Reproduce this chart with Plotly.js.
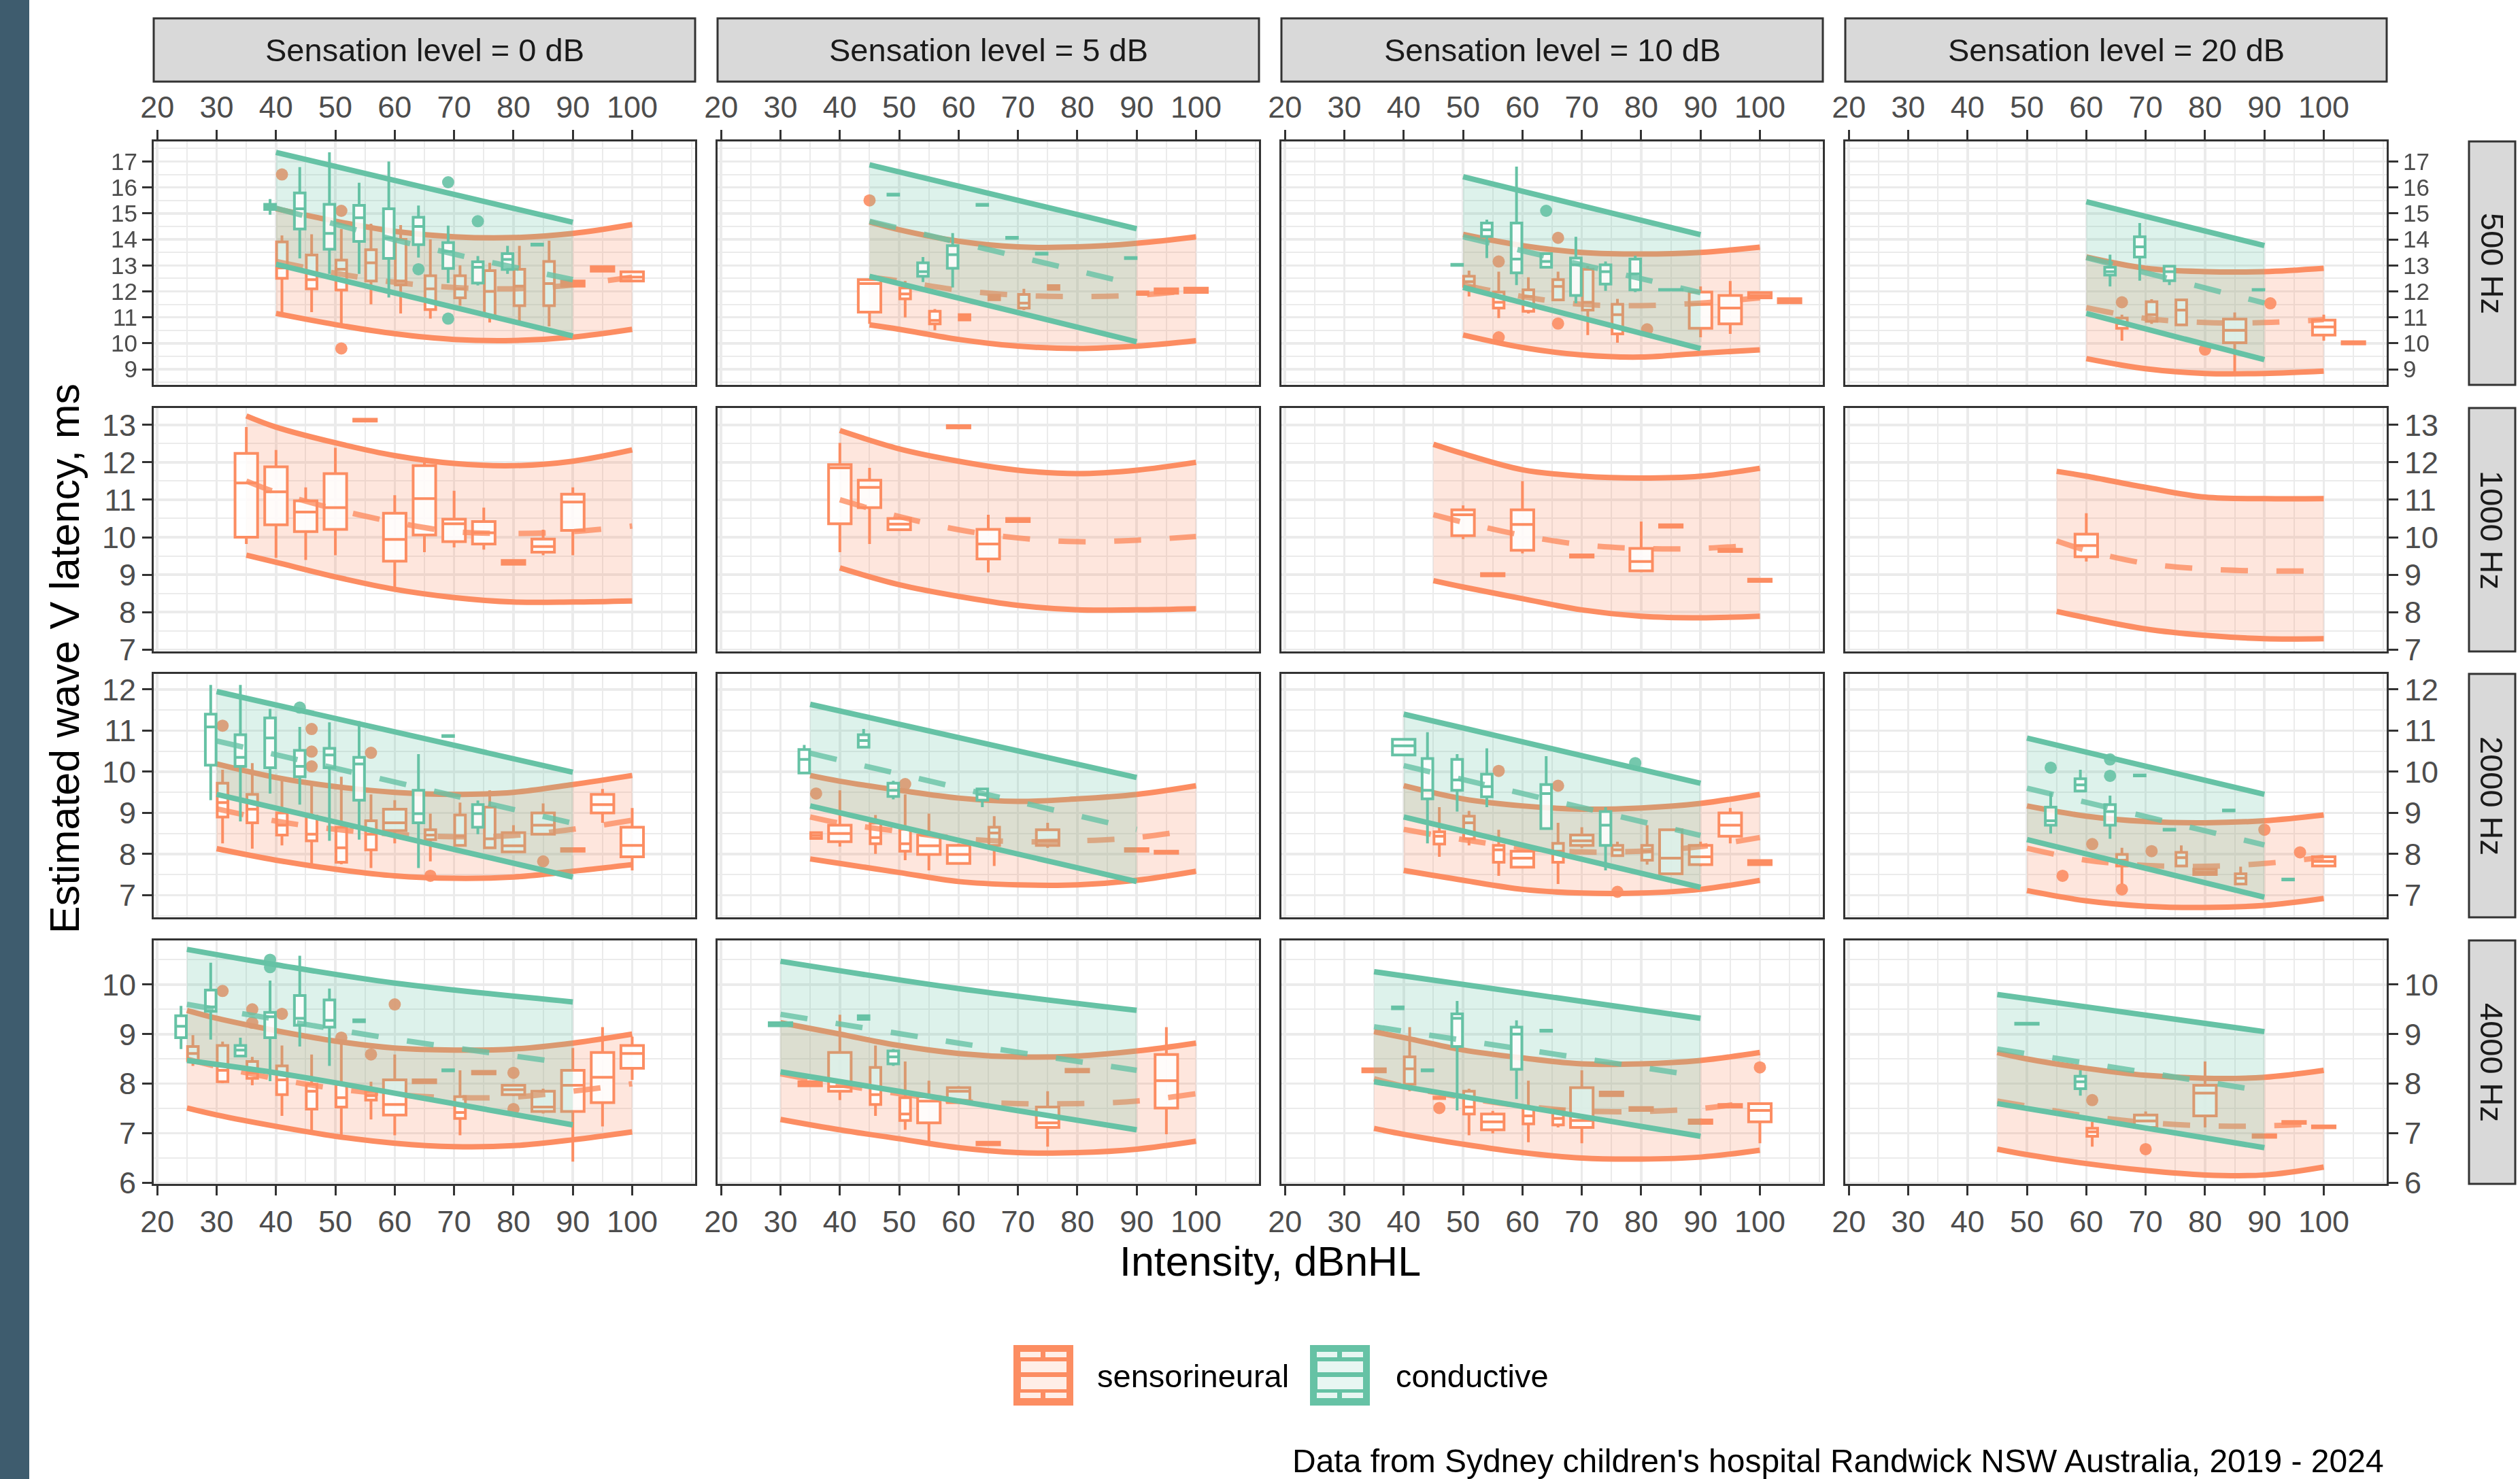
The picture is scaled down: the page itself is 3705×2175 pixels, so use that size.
<!DOCTYPE html>
<html><head><meta charset="utf-8">
<script src="https://cdn.plot.ly/plotly-3.0.1.min.js"></script>
<style>html,body{margin:0;padding:0;background:#fff}#chart{width:3705px;height:2175px}</style>
</head><body><div id="chart"></div>
<script>
// ---------------- DATA ----------------
const sensationLevels = ['Sensation level = 0 dB','Sensation level = 5 dB','Sensation level = 10 dB','Sensation level = 20 dB'];
const frequencies = ['500 Hz','1000 Hz','2000 Hz','4000 Hz'];
const groupNames = ['sensorineural','conductive'];
const xTickVals = [20,30,40,50,60,70,80,90,100];
const xMinorVals = [25,35,45,55,65,75,85,95,105,110];
const yTickVals = [[9,10,11,12,13,14,15,16,17],[7,8,9,10,11,12,13],[7,8,9,10,11,12],[6,7,8,9,10]];
const yMinorVals = [[8.5,9.5,10.5,11.5,12.5,13.5,14.5,15.5,16.5,17.5],[7.5,8.5,9.5,10.5,11.5,12.5],[6.5,7.5,8.5,9.5,10.5,11.5],[6.5,7.5,8.5,9.5,10.5]];
const captionText = "Data from Sydney children's hospital Randwick NSW Australia, 2019 - 2024";

// boxes: [intensity, lower whisker, q1, median, q3, upper whisker]; outliers: [intensity, latency]
// ---- 500 Hz, SL 0
const p11_x = [40,50,60,70,80,90,100];
const p11_snLo = [11.15,10.72,10.37,10.15,10.11,10.24,10.54];
const p11_snHi = [15.18,14.70,14.31,14.10,14.07,14.23,14.57];
const p11_snFit = [13.15,12.7,12.35,12.15,12.1,12.25,12.55];
const p11_cdX = [40,65,90];
const p11_cdLo = [13.04,11.66,10.28];
const p11_cdHi = [17.35,16.0,14.66];
const p11_cdFit = [15.2,13.7,12.45];
const p11_snBox = [[40,11.2,12.5,12.9,13.9,14.15],[45,11.2,12.1,12.45,13.4,14.2],[50,10.75,12.05,12.85,13.2,14.4],[55,11.5,12.4,13.1,13.6,14.6],[60,11.15,12.25,12.4,14.0,14.55],[65,10.95,11.3,12.1,12.6,14.0],[70,11.45,11.75,12.1,12.6,13.0],[75,10.8,11.06,12.0,12.8,13.1],[80,10.8,11.45,12.2,12.85,13.75],[85,10.65,11.45,12.3,13.15,13.95],[90,12.15,12.2,12.3,12.4,12.45],[95,12.75,12.78,12.85,12.95,12.97],[100,12.35,12.4,12.55,12.75,12.8]];
const p11_cdBox = [[40,14.95,15.15,15.25,15.35,15.55],[45,13.27,14.4,15.18,15.79,16.78],[50,12.67,13.62,14.23,15.35,17.35],[55,12.67,13.92,14.83,15.31,16.18],[60,11.76,13.27,14.05,15.18,17.0],[65,13.3,13.8,14.5,14.85,15.3],[70,12.32,12.88,13.53,13.88,14.53],[75,12.23,12.32,12.93,13.14,13.36],[80,12.67,12.84,13.23,13.45,13.75],[85,13.75,13.78,13.8,13.82,13.85]];
const p11_snOut = [[40,16.5],[50,15.1],[50,9.8]];
const p11_cdOut = [[70,16.2],[75,14.7],[65,12.85],[70,10.95]];
// ---- 500 Hz, SL 5
const p12_x = [45,50,60,70,80,90,100];
const p12_snLo = [10.71,10.54,10.15,9.89,9.8,9.89,10.1];
const p12_snHi = [14.67,14.37,13.93,13.71,13.71,13.85,14.1];
const p12_snFit = [12.55,12.4,12.05,11.85,11.8,11.85,12.05];
const p12_cdX = [45,90];
const p12_cdLo = [12.58,10.06];
const p12_cdHi = [16.87,14.41];
const p12_cdFit = [14.7,12.25];
const p12_snBox = [[45,10.75,11.2,12.3,12.45,12.5],[50,11.0,11.71,11.9,12.13,12.4],[55,10.5,10.75,10.88,11.23,11.32],[60,10.88,10.9,11.0,11.1,11.12],[65,11.65,11.68,11.75,11.85,11.88],[70,11.28,11.36,11.55,11.88,12.1],[75,12.05,12.08,12.15,12.22,12.25],[90,11.85,11.88,11.93,11.98,12.0],[95,11.9,11.93,12.0,12.1,12.15],[100,11.93,11.96,12.05,12.12,12.17]];
const p12_cdBox = [[50,15.68,15.7,15.72,15.74,15.76],[55,12.36,12.58,12.76,13.1,13.32],[60,12.15,12.89,13.41,13.76,14.24],[65,15.28,15.31,15.33,15.35,15.38],[70,14.02,14.04,14.06,14.08,14.1],[75,13.41,13.43,13.45,13.47,13.49],[90,13.24,13.26,13.28,13.3,13.32]];
const p12_snOut = [[45,15.5]];
const p12_cdOut = [];
// ---- 500 Hz, SL 10
const p13_x = [50,60,70,80,90,100];
const p13_snLo = [10.32,9.84,9.55,9.47,9.62,9.75];
const p13_snHi = [14.19,13.76,13.5,13.44,13.5,13.7];
const p13_snFit = [12.25,11.8,11.5,11.45,11.55,11.75];
const p13_cdX = [50,90];
const p13_cdLo = [12.15,9.8];
const p13_cdHi = [16.41,14.18];
const p13_cdFit = [14.1,11.95];
const p13_snBox = [[50,11.8,12.19,12.37,12.58,12.8],[55,10.97,11.36,11.58,11.97,12.76],[60,11.15,11.23,11.8,12.06,12.54],[65,11.63,11.67,12.19,12.45,12.76],[70,10.32,11.28,11.58,12.85,12.98],[75,10.02,10.36,11.1,11.5,11.71],[90,10.23,10.58,11.5,11.97,12.19],[95,10.36,10.75,11.36,11.84,12.4],[100,11.71,11.75,11.84,11.95,11.97],[105,11.52,11.56,11.64,11.72,11.76]];
const p13_cdBox = [[50,12.98,13.0,13.02,13.04,13.06],[55,13.28,14.11,14.37,14.63,14.76],[60,12.24,12.71,13.24,14.63,16.8],[65,12.9,12.93,13.15,13.45,13.5],[70,11.54,11.84,13.02,13.28,14.1],[75,12.02,12.28,12.76,13.02,13.15],[80,11.97,12.06,12.67,13.24,13.37],[85,12.04,12.05,12.06,12.07,12.08]];
const p13_snOut = [[55,13.15],[55,10.23],[65,14.06],[65,10.76],[80,10.54]];
const p13_cdOut = [[65,15.1]];
// ---- 500 Hz, SL 20
const p14_x = [60,70,80,90,100];
const p14_snLo = [9.41,9.02,8.84,8.84,8.93];
const p14_snHi = [13.32,12.89,12.76,12.76,12.89];
const p14_snFit = [11.37,10.96,10.8,10.8,10.91];
const p14_cdX = [60,90];
const p14_cdLo = [11.15,9.37];
const p14_cdHi = [15.45,13.76];
const p14_cdFit = [13.3,11.55];
const p14_snBox = [[65,10.1,10.58,10.76,10.97,11.1],[70,10.75,10.85,11.1,11.6,11.7],[75,10.67,10.71,11.28,11.67,11.71],[85,8.88,10.02,10.5,10.93,11.19],[100,10.1,10.32,10.63,10.89,11.1],[105,9.95,9.98,10.02,10.06,10.08]];
const p14_cdBox = [[65,12.19,12.63,12.76,12.93,13.41],[70,12.41,13.32,13.71,14.1,14.63],[75,12.24,12.41,12.76,12.97,13.0],[90,12.04,12.05,12.06,12.07,12.08]];
const p14_snOut = [[65,11.58],[80,9.76],[90,11.54]];
const p14_cdOut = [];
// ---- 1000 Hz (sensorineural only)
const p21_x = [35,40,50,60,70,80,90,100];
const p21_snLo = [9.52,9.33,8.94,8.61,8.39,8.27,8.27,8.3];
const p21_snHi = [13.24,12.94,12.52,12.18,11.97,11.91,12.03,12.33];
const p21_snFit = [11.5,11.2,10.75,10.4,10.15,10.1,10.15,10.3];
const p21_snBox = [[35,9.82,10.0,11.45,12.24,12.94],[40,9.45,10.33,11.21,11.88,12.33],[45,9.39,10.15,10.67,10.97,11.33],[50,9.52,10.21,10.79,11.7,12.39],[55,13.08,13.1,13.12,13.15,13.18],[60,8.67,9.36,9.94,10.64,11.12],[65,9.6,10.06,11.03,11.91,12.0],[70,9.73,9.88,10.36,10.48,11.24],[75,9.67,9.82,10.12,10.42,10.79],[80,9.26,9.28,9.33,9.38,9.39],[85,9.52,9.6,9.75,9.95,10.2],[90,9.52,10.18,10.94,11.15,11.33]];
const p22_x = [40,50,60,70,80,90,100];
const p22_snLo = [9.18,8.73,8.42,8.18,8.06,8.06,8.09];
const p22_snHi = [12.85,12.36,12.03,11.79,11.7,11.79,12.0];
const p22_snFit = [11.0,10.55,10.2,9.98,9.88,9.92,10.02];
const p22_snBox = [[40,9.6,10.36,11.85,11.94,12.52],[45,9.82,10.79,11.33,11.52,11.85],[50,10.18,10.2,10.35,10.5,10.55],[60,12.9,12.92,12.95,12.98,13.0],[65,9.06,9.42,9.82,10.21,10.6],[70,10.4,10.42,10.46,10.5,10.52]];
const p23_x = [45,50,60,70,80,90,100];
const p23_snLo = [8.84,8.67,8.36,8.06,7.89,7.85,7.89];
const p23_snHi = [12.48,12.23,11.8,11.63,11.58,11.63,11.84];
const p23_snFit = [10.6,10.4,10.05,9.8,9.7,9.7,9.8];
const p23_snBox = [[50,9.95,10.04,10.6,10.73,10.85],[55,8.95,8.97,9.0,9.03,9.05],[60,9.57,9.65,10.34,10.73,11.5],[70,9.45,9.47,9.5,9.53,9.55],[80,9.1,9.1,9.35,9.7,10.42],[85,10.25,10.27,10.3,10.33,10.35],[95,9.6,9.62,9.65,9.68,9.7],[100,8.8,8.82,8.85,8.88,8.9]];
const p24_x = [55,60,70,80,90,100];
const p24_snLo = [8.02,7.85,7.55,7.38,7.29,7.29];
const p24_snHi = [11.76,11.63,11.33,11.07,11.03,11.03];
const p24_snFit = [9.9,9.65,9.3,9.15,9.1,9.1];
const p24_snBox = [[60,9.35,9.48,9.78,10.08,10.64]];
// ---- 2000 Hz
const p31_x = [30,40,50,60,70,80,90,100];
const p31_snLo = [8.13,7.85,7.63,7.47,7.41,7.44,7.58,7.74];
const p31_snHi = [10.19,9.86,9.64,9.5,9.45,9.5,9.69,9.91];
const p31_snFit = [9.1,8.8,8.6,8.48,8.42,8.45,8.6,8.82];
const p31_cdX = [30,90];
const p31_cdLo = [9.45,7.44];
const p31_cdHi = [11.95,9.99];
const p31_cdFit = [10.75,8.75];
const p31_snBox = [[30,8.26,8.9,9.25,9.72,10.05],[35,8.13,8.76,9.09,9.45,10.21],[40,8.21,8.46,8.7,9.0,9.88],[45,7.71,8.32,8.48,8.92,9.69],[50,7.75,7.8,8.15,8.65,9.88],[55,7.66,8.1,8.48,8.81,9.45],[60,8.26,8.57,8.76,9.09,9.31],[65,7.82,8.35,8.46,8.59,8.98],[70,8.21,8.21,8.43,8.95,9.25],[75,8.15,8.15,8.37,9.14,9.55],[80,8.03,8.05,8.2,8.52,8.7],[85,8.48,8.48,8.7,9.0,9.23],[90,8.05,8.07,8.1,8.13,8.15],[95,8.76,9.0,9.2,9.45,9.58],[100,7.6,7.93,8.21,8.65,9.12]];
const p31_cdBox = [[30,9.31,10.16,11.09,11.4,12.11],[35,8.79,10.13,10.35,10.9,12.11],[40,9.47,10.1,10.82,11.31,11.53],[45,9.2,9.88,10.13,10.52,11.09],[50,8.32,10.1,10.41,10.57,11.2],[55,8.35,9.31,10.19,10.35,11.23],[65,7.66,8.76,8.98,9.55,10.43],[70,10.85,10.86,10.87,10.88,10.89],[75,8.48,8.65,8.98,9.2,9.3]];
const p31_snOut = [[30,11.12],[45,11.04],[45,10.49],[45,10.13],[55,10.46],[65,7.47],[85,7.82]];
const p31_cdOut = [[45,11.56]];
const p32_x = [35,40,50,60,70,80,90,100];
const p32_snLo = [7.88,7.77,7.55,7.33,7.25,7.25,7.36,7.58];
const p32_snHi = [9.91,9.77,9.55,9.36,9.28,9.34,9.45,9.66];
const p32_snFit = [8.9,8.75,8.55,8.38,8.3,8.32,8.4,8.6];
const p32_cdX = [35,90];
const p32_cdLo = [9.17,7.33];
const p32_cdHi = [11.64,9.86];
const p32_cdFit = [10.45,8.6];
const p32_snBox = [[35,8.35,8.38,8.45,8.52,8.55],[40,8.18,8.3,8.5,8.7,9.55],[45,8.0,8.25,8.4,8.75,8.95],[50,7.85,8.07,8.25,8.6,9.45],[55,7.6,7.99,8.2,8.46,8.98],[60,7.74,7.77,7.99,8.21,8.25],[65,7.71,8.21,8.51,8.65,8.92],[75,8.15,8.21,8.32,8.59,8.76],[90,8.05,8.07,8.1,8.13,8.15],[95,8.0,8.02,8.05,8.07,8.1]];
const p32_cdBox = [[35,9.94,9.97,10.3,10.54,10.65],[45,10.6,10.6,10.76,10.9,11.04],[50,9.33,9.4,9.55,9.72,9.78],[65,9.14,9.31,9.45,9.58,9.6]];
const p32_snOut = [[35,9.47],[50,9.7]];
const p32_cdOut = [];
const p33_x = [40,50,60,70,80,90,100];
const p33_snLo = [7.6,7.36,7.14,7.05,7.05,7.14,7.36];
const p33_snHi = [9.66,9.34,9.17,9.09,9.12,9.23,9.45];
const p33_snFit = [8.6,8.35,8.15,8.05,8.07,8.18,8.4];
const p33_cdX = [40,90];
const p33_cdLo = [8.9,7.19];
const p33_cdHi = [11.4,9.72];
const p33_cdFit = [10.15,8.45];
const p33_snBox = [[45,7.93,8.24,8.43,8.54,9.14],[50,8.21,8.37,8.76,8.92,9.05],[55,7.47,7.8,8.1,8.21,8.59],[60,7.66,7.68,7.9,8.07,8.1],[65,7.27,7.8,8.07,8.26,8.76],[70,8.15,8.21,8.32,8.46,8.65],[75,7.94,7.96,8.1,8.21,8.3],[80,7.74,7.85,8.07,8.21,8.7],[85,7.49,7.52,7.9,8.59,8.62],[90,7.7,7.74,7.93,8.21,8.3],[95,8.26,8.43,8.7,9.0,9.12],[100,7.72,7.74,7.79,7.84,7.86]];
const p33_cdBox = [[40,10.38,10.41,10.63,10.79,10.82],[45,8.26,9.34,9.55,10.32,10.96],[50,9.03,9.55,9.8,10.3,10.43],[55,9.14,9.39,9.64,9.94,10.57],[65,8.59,8.62,9.47,9.69,10.38],[75,7.6,8.21,8.7,9.03,9.14]];
const p33_snOut = [[55,10.02],[65,9.66],[75,7.08]];
const p33_cdOut = [[80,10.21]];
const p34_x = [50,60,70,80,90,100];
const p34_snLo = [7.11,6.86,6.73,6.7,6.75,6.92];
const p34_snHi = [9.17,8.92,8.79,8.76,8.81,8.95];
const p34_snFit = [8.14,7.85,7.72,7.7,7.77,7.92];
const p34_cdX = [50,90];
const p34_cdLo = [8.35,6.95];
const p34_cdHi = [10.82,9.45];
const p34_cdFit = [9.6,8.22];
const p34_snBox = [[65,7.27,7.71,7.85,7.99,8.15],[75,7.69,7.71,7.91,8.04,8.21],[80,7.49,7.5,7.56,7.63,7.65],[85,7.25,7.27,7.41,7.52,7.69],[100,7.68,7.71,7.82,7.93,7.96]];
const p34_cdBox = [[55,8.5,8.7,8.81,9.14,9.5],[60,9.5,9.53,9.68,9.83,10.05],[65,8.37,8.7,9.03,9.2,9.42],[70,9.89,9.9,9.91,9.92,9.93],[75,8.57,8.58,8.59,8.6,8.61],[85,9.04,9.05,9.06,9.07,9.08],[95,7.36,7.37,7.38,7.39,7.4]];
const p34_snOut = [[55,7.47],[60,8.24],[65,7.14],[70,8.07],[95,8.04],[90,8.59]];
const p34_cdOut = [[55,10.1],[65,10.3],[65,9.9]];
// ---- 4000 Hz
const p41_x = [25,30,40,50,60,70,80,90,100];
const p41_snLo = [7.51,7.37,7.14,6.94,6.8,6.73,6.75,6.87,7.03];
const p41_snHi = [9.48,9.32,9.07,8.86,8.72,8.68,8.7,8.82,9.0];
const p41_snFit = [8.5,8.35,8.1,7.9,7.78,7.72,7.73,7.85,8.0];
const p41_cdX = [25,40,60,90];
const p41_cdLo = [8.47,8.22,7.81,7.17];
const p41_cdHi = [10.71,10.4,10.03,9.65];
const p41_cdFit = [9.6,9.3,8.9,8.4];
const p41_snBox = [[25,8.36,8.47,8.61,8.75,8.98],[30,8.01,8.04,8.27,8.77,8.85],[35,7.97,8.11,8.22,8.45,8.54],[40,7.35,7.78,8.08,8.36,8.77],[45,7.0,7.49,7.85,7.99,8.59],[50,6.96,7.53,7.72,7.99,8.82],[55,7.28,7.67,7.76,7.85,8.04],[60,6.96,7.37,7.58,8.08,8.59],[65,8.0,8.02,8.06,8.08,8.1],[70,6.96,7.3,7.42,7.74,8.27],[75,8.18,8.2,8.22,8.25,8.27],[80,7.75,7.78,7.88,7.97,8.0],[85,7.4,7.44,7.53,7.85,7.9],[90,6.43,7.44,7.97,8.27,8.72],[95,7.14,7.62,8.13,8.63,9.14],[100,8.08,8.31,8.61,8.77,8.95]];
const p41_cdBox = [[25,8.7,8.93,9.16,9.37,9.57],[30,8.89,9.46,9.55,9.89,10.44],[35,8.56,8.56,8.68,8.77,8.93],[40,8.05,8.93,9.35,9.44,10.08],[45,8.75,9.18,9.32,9.78,10.58],[50,8.36,9.14,9.28,9.69,9.92],[55,9.24,9.25,9.27,9.29,9.3],[70,8.25,8.26,8.27,8.28,8.29]];
const p41_snOut = [[30,9.87],[35,9.5],[35,9.23],[40,9.41],[50,8.93],[55,8.59],[60,9.6],[80,8.22],[80,7.49]];
const p41_cdOut = [[40,10.5],[40,10.35]];
const p42_x = [30,40,50,60,70,80,90,100];
const p42_snLo = [7.28,7.07,6.89,6.71,6.61,6.61,6.68,6.84];
const p42_snHi = [9.23,9.0,8.77,8.61,8.54,8.56,8.66,8.82];
const p42_snFit = [8.2,7.98,7.8,7.65,7.6,7.6,7.65,7.8];
const p42_cdX = [30,60,90];
const p42_cdLo = [8.24,7.65,7.07];
const p42_cdHi = [10.47,9.92,9.48];
const p42_cdFit = [9.4,8.82,8.27];
const p42_snBox = [[35,7.94,7.96,8.0,8.04,8.06],[40,7.67,7.85,7.94,8.63,9.39],[45,7.35,7.58,7.78,8.33,8.77],[50,7.07,7.26,7.39,7.72,8.45],[55,6.8,7.21,7.65,7.74,8.06],[60,7.6,7.62,7.85,7.92,7.95],[65,6.75,6.77,6.8,6.82,6.84],[75,6.73,7.12,7.21,7.53,7.85],[80,8.22,8.24,8.27,8.29,8.31],[95,6.98,7.51,8.06,8.59,9.14]];
const p42_cdBox = [[30,9.15,9.17,9.2,9.23,9.25],[45,9.28,9.3,9.33,9.37,9.39],[50,8.36,8.4,8.54,8.66,8.7]];
const p42_snOut = [];
const p42_cdOut = [];
const p43_x = [35,40,50,60,70,80,90,100];
const p43_snLo = [7.1,6.98,6.78,6.61,6.5,6.48,6.52,6.66];
const p43_snHi = [9.05,8.93,8.68,8.52,8.4,8.4,8.47,8.63];
const p43_snFit = [8.1,7.95,7.72,7.55,7.45,7.44,7.5,7.65];
const p43_cdX = [35,90];
const p43_cdLo = [8.04,6.94];
const p43_cdHi = [10.26,9.32];
const p43_cdFit = [9.15,8.15];
const p43_snBox = [[35,8.22,8.24,8.27,8.3,8.32],[40,7.85,7.99,8.3,8.54,9.14],[45,7.69,7.7,7.72,7.73,7.74],[50,6.96,7.39,7.53,7.85,7.9],[55,7.0,7.07,7.23,7.39,7.45],[60,6.82,7.19,7.35,7.51,8.06],[65,7.12,7.17,7.3,7.49,7.51],[70,6.8,7.12,7.26,7.92,8.27],[75,7.74,7.76,7.8,7.83,7.85],[80,7.44,7.46,7.5,7.52,7.53],[90,7.17,7.2,7.24,7.27,7.3],[95,7.51,7.53,7.56,7.58,7.6],[100,6.8,7.23,7.46,7.6,7.62]];
const p43_cdBox = [[40,9.5,9.51,9.53,9.55,9.56],[45,8.25,8.26,8.27,8.28,8.29],[50,7.46,8.75,9.32,9.41,9.67],[60,7.69,8.29,9.0,9.14,9.28],[65,9.05,9.06,9.07,9.08,9.09]];
const p43_snOut = [[45,7.51],[100,8.33]];
const p43_cdOut = [];
const p44_x = [45,50,60,70,80,90,100];
const p44_snLo = [6.68,6.57,6.39,6.25,6.16,6.16,6.32];
const p44_snHi = [8.63,8.5,8.31,8.17,8.11,8.13,8.27];
const p44_snFit = [7.65,7.55,7.35,7.22,7.15,7.15,7.2];
const p44_cdX = [45,90];
const p44_cdLo = [7.6,6.71];
const p44_cdHi = [9.8,9.05];
const p44_cdFit = [8.7,7.85];
const p44_snBox = [[60,6.73,6.94,7.03,7.1,7.23],[70,7.07,7.12,7.25,7.37,7.44],[80,7.12,7.35,7.81,7.97,8.45],[90,6.91,6.92,6.95,6.97,6.98],[95,7.19,7.2,7.22,7.24,7.26],[100,7.1,7.11,7.13,7.15,7.17]];
const p44_cdBox = [[50,9.19,9.2,9.21,9.22,9.23],[60,7.76,7.9,8.04,8.15,8.27]];
const p44_snOut = [[60,7.67],[70,6.68]];
const p44_cdOut = [];

// ---------------- TABLE (built from the arrays above) ----------------
const E = [];
const panelTable = [
 [{x:p11_x,snLo:p11_snLo,snHi:p11_snHi,snFit:p11_snFit,cdX:p11_cdX,cdLo:p11_cdLo,cdHi:p11_cdHi,cdFit:p11_cdFit,snBox:p11_snBox,cdBox:p11_cdBox,snOut:p11_snOut,cdOut:p11_cdOut},
  {x:p12_x,snLo:p12_snLo,snHi:p12_snHi,snFit:p12_snFit,cdX:p12_cdX,cdLo:p12_cdLo,cdHi:p12_cdHi,cdFit:p12_cdFit,snBox:p12_snBox,cdBox:p12_cdBox,snOut:p12_snOut,cdOut:p12_cdOut},
  {x:p13_x,snLo:p13_snLo,snHi:p13_snHi,snFit:p13_snFit,cdX:p13_cdX,cdLo:p13_cdLo,cdHi:p13_cdHi,cdFit:p13_cdFit,snBox:p13_snBox,cdBox:p13_cdBox,snOut:p13_snOut,cdOut:p13_cdOut},
  {x:p14_x,snLo:p14_snLo,snHi:p14_snHi,snFit:p14_snFit,cdX:p14_cdX,cdLo:p14_cdLo,cdHi:p14_cdHi,cdFit:p14_cdFit,snBox:p14_snBox,cdBox:p14_cdBox,snOut:p14_snOut,cdOut:p14_cdOut}],
 [{x:p21_x,snLo:p21_snLo,snHi:p21_snHi,snFit:p21_snFit,cdX:E,cdLo:E,cdHi:E,cdFit:E,snBox:p21_snBox,cdBox:E,snOut:E,cdOut:E},
  {x:p22_x,snLo:p22_snLo,snHi:p22_snHi,snFit:p22_snFit,cdX:E,cdLo:E,cdHi:E,cdFit:E,snBox:p22_snBox,cdBox:E,snOut:E,cdOut:E},
  {x:p23_x,snLo:p23_snLo,snHi:p23_snHi,snFit:p23_snFit,cdX:E,cdLo:E,cdHi:E,cdFit:E,snBox:p23_snBox,cdBox:E,snOut:E,cdOut:E},
  {x:p24_x,snLo:p24_snLo,snHi:p24_snHi,snFit:p24_snFit,cdX:E,cdLo:E,cdHi:E,cdFit:E,snBox:p24_snBox,cdBox:E,snOut:E,cdOut:E}],
 [{x:p31_x,snLo:p31_snLo,snHi:p31_snHi,snFit:p31_snFit,cdX:p31_cdX,cdLo:p31_cdLo,cdHi:p31_cdHi,cdFit:p31_cdFit,snBox:p31_snBox,cdBox:p31_cdBox,snOut:p31_snOut,cdOut:p31_cdOut},
  {x:p32_x,snLo:p32_snLo,snHi:p32_snHi,snFit:p32_snFit,cdX:p32_cdX,cdLo:p32_cdLo,cdHi:p32_cdHi,cdFit:p32_cdFit,snBox:p32_snBox,cdBox:p32_cdBox,snOut:p32_snOut,cdOut:p32_cdOut},
  {x:p33_x,snLo:p33_snLo,snHi:p33_snHi,snFit:p33_snFit,cdX:p33_cdX,cdLo:p33_cdLo,cdHi:p33_cdHi,cdFit:p33_cdFit,snBox:p33_snBox,cdBox:p33_cdBox,snOut:p33_snOut,cdOut:p33_cdOut},
  {x:p34_x,snLo:p34_snLo,snHi:p34_snHi,snFit:p34_snFit,cdX:p34_cdX,cdLo:p34_cdLo,cdHi:p34_cdHi,cdFit:p34_cdFit,snBox:p34_snBox,cdBox:p34_cdBox,snOut:p34_snOut,cdOut:p34_cdOut}],
 [{x:p41_x,snLo:p41_snLo,snHi:p41_snHi,snFit:p41_snFit,cdX:p41_cdX,cdLo:p41_cdLo,cdHi:p41_cdHi,cdFit:p41_cdFit,snBox:p41_snBox,cdBox:p41_cdBox,snOut:p41_snOut,cdOut:p41_cdOut},
  {x:p42_x,snLo:p42_snLo,snHi:p42_snHi,snFit:p42_snFit,cdX:p42_cdX,cdLo:p42_cdLo,cdHi:p42_cdHi,cdFit:p42_cdFit,snBox:p42_snBox,cdBox:p42_cdBox,snOut:p42_snOut,cdOut:p42_cdOut},
  {x:p43_x,snLo:p43_snLo,snHi:p43_snHi,snFit:p43_snFit,cdX:p43_cdX,cdLo:p43_cdLo,cdHi:p43_cdHi,cdFit:p43_cdFit,snBox:p43_snBox,cdBox:p43_cdBox,snOut:p43_snOut,cdOut:p43_cdOut},
  {x:p44_x,snLo:p44_snLo,snHi:p44_snHi,snFit:p44_snFit,cdX:p44_cdX,cdLo:p44_cdLo,cdHi:p44_cdHi,cdFit:p44_cdFit,snBox:p44_snBox,cdBox:p44_cdBox,snOut:p44_snOut,cdOut:p44_cdOut}]
];

// ---------------- LAYOUT / STYLE ----------------
const W = 3705, H = 2175;
const colX0 = [226,1055,1884,2713], PW = 796;
const rowY0 = [208,600,991,1383], PH = 358;
const xRange = [19.4,110.6];
const yRanges = [[8.4,17.77],[6.95,13.45],[6.46,12.38],[5.98,10.89]];
const yTickFontSize = [35,45,45,45];
const SN = '#FC8D62', CD = '#66C2A5';
const SN_FILL = 'rgba(252,141,98,0.22)', CD_FILL = 'rgba(102,194,165,0.22)';
const FONT = 'Liberation Sans, Arial, Helvetica, sans-serif';
const DODGE = 1.0, W_DODGE = 1.8, W_FULL = 3.8;
const px = v => v / W, py = v => 1 - v / H;
const axId = n => (n === 1 ? '' : String(n));

const traces = [];
const layout = {
  width: W, height: H, margin: {l:0, r:0, t:0, b:0},
  paper_bgcolor: '#ffffff', plot_bgcolor: '#ffffff',
  showlegend: false, hovermode: false, dragmode: false,
  shapes: [], annotations: []
};

function presentSet(boxes, outs) {
  const s = new Set();
  boxes.forEach(b => s.add(b[0]));
  outs.forEach(o => s.add(o[0]));
  return s;
}
function boxTraces(boxes, other, sign, color, xa, ya) {
  const parts = [{w: W_DODGE, x:[],lo:[],q1:[],md:[],q3:[],hi:[]}, {w: W_FULL, x:[],lo:[],q1:[],md:[],q3:[],hi:[]}];
  boxes.forEach(b => {
    const d = other.has(b[0]);
    const t = d ? parts[0] : parts[1];
    t.x.push(b[0] + (d ? sign * DODGE : 0));
    t.lo.push(b[1]); t.q1.push(b[2]); t.md.push(b[3]); t.q3.push(b[4]); t.hi.push(b[5]);
  });
  return parts.filter(t => t.x.length).map(t => ({
    type:'box', orientation:'v', x:t.x, lowerfence:t.lo, q1:t.q1, median:t.md, q3:t.q3, upperfence:t.hi,
    width:t.w, boxpoints:false, whiskerwidth:0,
    line:{color:color, width:4}, fillcolor:'rgba(255,255,255,0.85)',
    xaxis:xa, yaxis:ya, hoverinfo:'skip', showlegend:false
  }));
}
function outTrace(outs, other, sign, color, xa, ya) {
  return {type:'scatter', mode:'markers',
    x: outs.map(o => o[0] + (other.has(o[0]) ? sign * DODGE : 0)), y: outs.map(o => o[1]),
    marker:{size:18, color:color, line:{width:0}}, opacity:0.9,
    xaxis:xa, yaxis:ya, hoverinfo:'skip', showlegend:false};
}
function fitTrace(x, y, color, xa, ya) {
  return {type:'scatter', mode:'lines', x:x, y:y,
    line:{color:color, width:8, dash:'40px,42px', shape:'spline'}, opacity:0.8,
    xaxis:xa, yaxis:ya, hoverinfo:'skip', showlegend:false};
}
function bandTraces(x, lo, hi, color, fill, xa, ya) {
  return [
    {type:'scatter', mode:'lines', x:x, y:lo, line:{color:color, width:8, shape:'spline'}, xaxis:xa, yaxis:ya, hoverinfo:'skip', showlegend:false},
    {type:'scatter', mode:'lines', x:x, y:hi, line:{color:color, width:8, shape:'spline'}, fill:'tonexty', fillcolor:fill, xaxis:xa, yaxis:ya, hoverinfo:'skip', showlegend:false}
  ];
}

for (let r = 0; r < 4; r++) {
  for (let c = 0; c < 4; c++) {
    const n = r * 4 + c + 1;
    const xa = 'x' + axId(n), yBase = 'y' + axId(n), yO1 = 'y' + (16 + n), yO2 = 'y' + (32 + n);
    const P = panelTable[r][c];
    const xDom = [px(colX0[c]), px(colX0[c] + PW)];
    const yDom = [py(rowY0[r] + PH), py(rowY0[r])];
    const showX = (r === 0 || r === 3);
    layout['xaxis' + axId(n)] = {
      domain: xDom, anchor: yBase, range: xRange, fixedrange: true,
      tickmode: 'array', tickvals: xTickVals, ticktext: xTickVals.map(String),
      showticklabels: showX, side: r === 0 ? 'top' : 'bottom',
      ticks: showX ? 'outside' : '', ticklen: 14, tickwidth: 3, tickcolor: '#333333',
      tickfont: {family:FONT, size:45, color:'#4D4D4D'},
      showgrid: true, gridcolor: '#EBEBEB', gridwidth: 3.5, zeroline: false,
      minor: {tickmode: 'array', tickvals: xMinorVals, showgrid: true, gridcolor: '#EBEBEB', gridwidth: 2, ticks: ''},
      showline: true, mirror: true, linecolor: '#333333', linewidth: 3
    };
    const showY = (c === 0 || c === 3);
    layout['yaxis' + axId(n)] = {
      domain: yDom, anchor: xa, range: yRanges[r], fixedrange: true,
      tickmode: 'array', tickvals: yTickVals[r], ticktext: yTickVals[r].map(String),
      showticklabels: showY, side: c === 3 ? 'right' : 'left',
      ticks: showY ? 'outside' : '', ticklen: 14, tickwidth: 3, tickcolor: '#333333',
      tickfont: {family:FONT, size:yTickFontSize[r], color:'#4D4D4D'},
      showgrid: true, gridcolor: '#EBEBEB', gridwidth: 3.5, zeroline: false,
      minor: {tickmode: 'array', tickvals: yMinorVals[r], showgrid: true, gridcolor: '#EBEBEB', gridwidth: 2, ticks: ''},
      showline: true, mirror: true, linecolor: '#333333', linewidth: 3
    };
    [yO1, yO2].forEach(id => {
      layout['yaxis' + id.slice(1)] = {overlaying: yBase, anchor: xa, range: yRanges[r], visible: false, fixedrange: true, showgrid: false, zeroline: false};
    });

    const snSet = presentSet(P.snBox, P.snOut), cdSet = presentSet(P.cdBox, P.cdOut);
    // layer 1: sensorineural band
    traces.push(...bandTraces(P.x, P.snLo, P.snHi, SN, SN_FILL, xa, yBase));
    // layer 2: sensorineural boxes, points, fit; then conductive band on top
    traces.push(...boxTraces(P.snBox, cdSet, +1, SN, xa, yO1));
    if (P.snOut.length) traces.push(outTrace(P.snOut, cdSet, +1, SN, xa, yO1));
    traces.push(fitTrace(P.x, P.snFit, SN, xa, yO1));
    if (P.cdX.length) traces.push(...bandTraces(P.cdX, P.cdLo, P.cdHi, CD, CD_FILL, xa, yO1));
    // layer 3: conductive boxes, points, fit
    if (P.cdBox.length) traces.push(...boxTraces(P.cdBox, snSet, -1, CD, xa, yO2));
    if (P.cdOut.length) traces.push(outTrace(P.cdOut, snSet, -1, CD, xa, yO2));
    if (P.cdX.length) traces.push(fitTrace(P.cdX, P.cdFit, CD, xa, yO2));
  }
}

// left dark band
layout.shapes.push({type:'rect', xref:'paper', yref:'paper', x0:0, x1:px(43), y0:0, y1:1, fillcolor:'#3E5C6E', line:{width:0}, layer:'below'});
// facet strips
for (let c = 0; c < 4; c++) {
  layout.shapes.push({type:'rect', xref:'paper', yref:'paper', x0:px(colX0[c]), x1:px(colX0[c] + PW), y0:py(120), y1:py(27), fillcolor:'#D9D9D9', line:{color:'#333333', width:3}});
  layout.annotations.push({xref:'paper', yref:'paper', x:px(colX0[c] + PW / 2), y:py(73.5), text:sensationLevels[c], showarrow:false, xanchor:'center', yanchor:'middle', font:{family:FONT, size:47, color:'#1A1A1A'}});
}
for (let r = 0; r < 4; r++) {
  layout.shapes.push({type:'rect', xref:'paper', yref:'paper', x0:px(3630), x1:px(3698), y0:py(rowY0[r] + PH), y1:py(rowY0[r]), fillcolor:'#D9D9D9', line:{color:'#333333', width:3}});
  layout.annotations.push({xref:'paper', yref:'paper', x:px(3664), y:py(rowY0[r] + PH / 2), text:frequencies[r], textangle:90, showarrow:false, xanchor:'center', yanchor:'middle', font:{family:FONT, size:47, color:'#1A1A1A'}});
}
// axis titles
layout.annotations.push({xref:'paper', yref:'paper', x:px(1867), y:py(1855), text:'Intensity, dBnHL', showarrow:false, xanchor:'center', yanchor:'middle', font:{family:FONT, size:61, color:'#000000'}});
layout.annotations.push({xref:'paper', yref:'paper', x:px(95), y:py(969), text:'Estimated wave V latency, ms', textangle:-90, showarrow:false, xanchor:'center', yanchor:'middle', font:{family:FONT, size:61, color:'#000000'}});
// legend (drawn keys)
const keyX = [1490, 1926], textX = [1611, 2050];
[SN, CD].forEach((col, k) => {
  const x0 = keyX[k];
  layout.shapes.push({type:'rect', xref:'paper', yref:'paper', x0:px(x0), x1:px(x0 + 88), y0:py(2067), y1:py(1978), fillcolor:col, line:{width:0}});
  const inner = [[10,40,10,18],[47,78,10,18],[11,78,24,40],[11,78,47,65],[10,40,70,78],[47,78,70,78]];
  inner.forEach(q => layout.shapes.push({type:'rect', xref:'paper', yref:'paper', x0:px(x0 + q[0]), x1:px(x0 + q[1]), y0:py(1978 + q[3]), y1:py(1978 + q[2]), fillcolor:'rgba(255,255,255,0.85)', line:{width:0}}));
  layout.annotations.push({xref:'paper', yref:'paper', x:px(textX[k]), y:py(2023), text:groupNames[k], showarrow:false, xanchor:'left', yanchor:'middle', font:{family:FONT, size:47, color:'#000000'}});
});
// caption
layout.annotations.push({xref:'paper', yref:'paper', x:px(3507), y:py(2148), text:captionText, showarrow:false, xanchor:'right', yanchor:'middle', font:{family:FONT, size:48, color:'#000000'}});

Plotly.newPlot('chart', traces, layout, {staticPlot:true, displayModeBar:false});
</script></body></html>
